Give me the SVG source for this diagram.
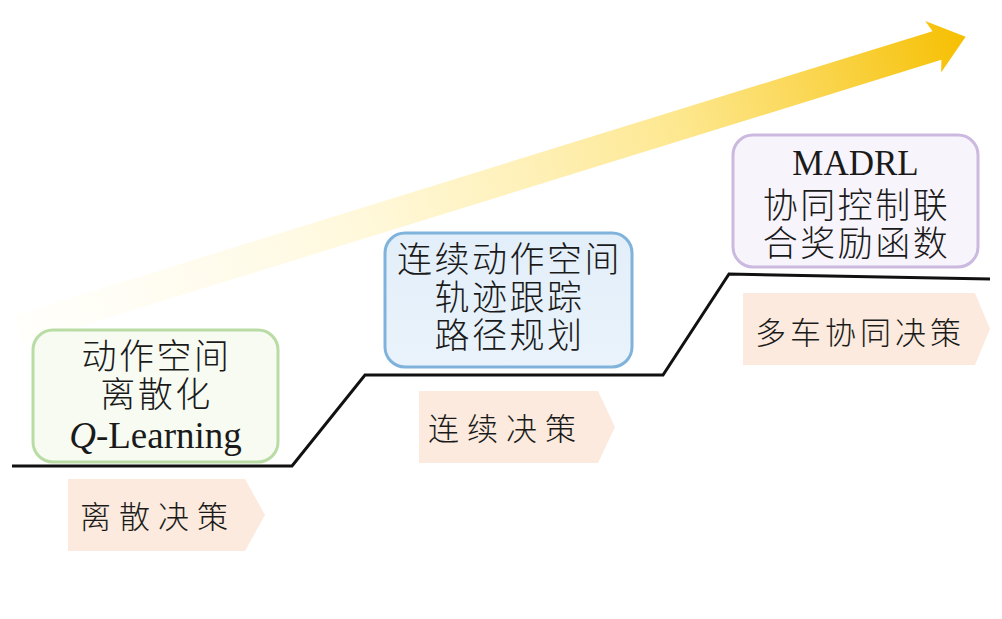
<svg xmlns="http://www.w3.org/2000/svg" width="1002" height="619" viewBox="0 0 1002 619">
  <defs>
    <linearGradient id="arrowGrad" gradientUnits="userSpaceOnUse" x1="0" y1="0" x2="992" y2="0">
      <stop offset="0" stop-color="#fffbe6" stop-opacity="0.15"/>
      <stop offset="0.35" stop-color="#fff3c0" stop-opacity="0.55"/>
      <stop offset="0.7" stop-color="#fde37a" stop-opacity="0.85"/>
      <stop offset="1" stop-color="#f6bf00"/>
    </linearGradient>
    <linearGradient id="blueFill" x1="0" y1="0" x2="0" y2="1">
      <stop offset="0" stop-color="#e2eef9"/>
      <stop offset="1" stop-color="#eaf3fb"/>
    </linearGradient>
    <style>
      .box { stroke-width: 3; }
      .cn { font-family: "Noto Sans CJK SC", "Noto Sans", sans-serif; font-weight: 300; fill: #1a1a1a; text-anchor: middle; }
      .big { font-size: 35px; letter-spacing: 2.5px; }
      .tagtxt { font-size: 31px; letter-spacing: 8px; }
      .serif { font-family: "Liberation Serif", "DejaVu Serif", serif; fill: #1a1a1a; text-anchor: middle; }
      .tag { fill: #fbeadd; }
      .stair { fill: none; stroke: #111; stroke-width: 3; stroke-linejoin: miter; }
    </style>
  </defs>
  <rect width="1002" height="619" fill="#ffffff"/>

  <g id="connectors">
    <g id="trend-arrow" transform="translate(18,330) rotate(-17.2)">
      <polygon points="0,-15 962,-15 958,-27 992,0 958,27 962,15 0,15" fill="url(#arrowGrad)"/>
    </g>
    <polyline id="stair-line" class="stair" points="12,466 292,466 365,375 663,375 729,274 990,279"/>
  </g>

  <g id="node-discrete">
    <rect class="box" x="33" y="330" width="245" height="132" rx="20" fill="#f7fbf2" stroke="#b9dca5"/>
    <text class="cn big" x="156.5" y="369">动作空间</text>
    <text class="cn big" x="156.5" y="407">离散化</text>
    <text class="serif" x="155.5" y="448" font-size="37"><tspan font-style="italic">Q</tspan>-Learning</text>
  </g>

  <g id="tag-discrete">
    <polygon class="tag" points="68,479 245,479 265,515 245,551 68,551"/>
    <text class="cn tagtxt" x="80" y="528" style="text-anchor:start">离散决策</text>
  </g>

  <g id="node-continuous">
    <rect class="box" x="385" y="233" width="247" height="134" rx="20" fill="url(#blueFill)" stroke="#7fb3dc"/>
    <text class="cn big" x="509.5" y="272">连续动作空间</text>
    <text class="cn big" x="509.5" y="310">轨迹跟踪</text>
    <text class="cn big" x="509.5" y="348">路径规划</text>
  </g>

  <g id="tag-continuous">
    <polygon class="tag" points="419,391 598,391 615,427 598,463 419,463"/>
    <text class="cn tagtxt" x="428" y="440" style="text-anchor:start">连续决策</text>
  </g>

  <g id="node-multi">
    <rect class="box" x="733" y="135" width="245" height="132" rx="20" fill="#f8f4fb" stroke="#cbb9e0"/>
    <text class="serif" x="855.5" y="175" font-size="35">MADRL</text>
    <text class="cn big" x="856.5" y="218">协同控制联</text>
    <text class="cn big" x="856.5" y="256">合奖励函数</text>
  </g>

  <g id="tag-multi">
    <polygon class="tag" points="743,293 975,293 990,329 975,365 743,365"/>
    <text class="cn tagtxt" x="755" y="344" style="text-anchor:start; letter-spacing:4px">多车协同决策</text>
  </g>
</svg>
